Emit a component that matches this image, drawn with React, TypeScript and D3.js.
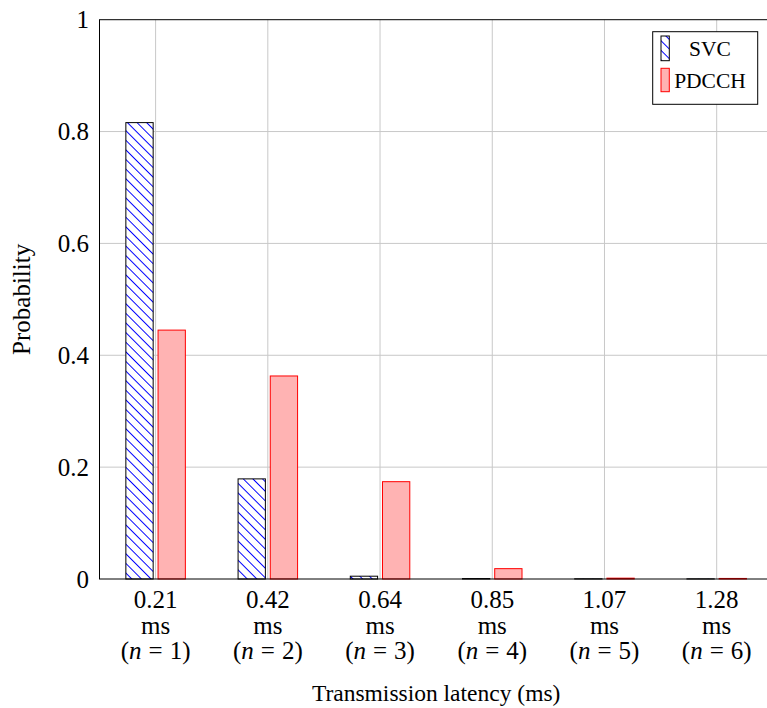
import React from "react";
import * as d3 from "d3";

const categories = ["0.21", "0.42", "0.64", "0.85", "1.07", "1.28"];
const nValues = [1, 2, 3, 4, 5, 6];
const svcValues = [0.816, 0.179, 0.005, 0.0008, 0.0004, 0.0003];
const pdcchValues = [0.445, 0.363, 0.174, 0.0185, 0.0015, 0.001];
const yTicks = [0, 0.2, 0.4, 0.6, 0.8, 1];
const yTickLabels = ["0", "0.2", "0.4", "0.6", "0.8", "1"];

const W = 767;
const H = 708;
const left = 99.5;
const right = 772.8;
const top = 19.7;
const bottom = 579;

export default function App() {
  const x = d3.scaleBand<string>().domain(categories).range([left, right]).padding(0);
  const y = d3.scaleLinear().domain([0, 1]).range([bottom, top]);
  const barW = 27.3;
  const off = 16.1;
  const font = "'Liberation Serif', 'Times New Roman', serif";
  const cx = (c: string) => (x(c) as number) + x.bandwidth() / 2;
  const ts = { fontFamily: font };

  return (
    <svg width={W} height={H} style={{ position: "absolute", left: 0, top: 0, background: "#fff", fontFamily: font }}>
      <defs>
        <clipPath id="plotClip">
          <rect x={left} y={top - 1} width={right - left} height={bottom - top + 2} />
        </clipPath>
        <pattern id="hatch" patternUnits="userSpaceOnUse" width="6.8" height="6.8" patternTransform="rotate(45)">
          <rect width="6.8" height="6.8" fill="#fff" />
          <line x1="0" y1="3.4" x2="6.8" y2="3.4" stroke="#0000ff" strokeWidth="1" />
        </pattern>
      </defs>
      <rect x={0} y={0} width={W} height={H} fill="#fff" />
      {/* grid */}
      <g stroke="#c8c8c8" strokeWidth={1}>
        {yTicks.slice(1, -1).map((t) => (
          <line key={"gy" + t} x1={left} x2={right} y1={y(t)} y2={y(t)} />
        ))}
        {categories.map((c) => (
          <line key={"gx" + c} x1={cx(c)} x2={cx(c)} y1={top} y2={bottom} />
        ))}
      </g>
      {/* bars */}
      <g clipPath="url(#plotClip)">
        {categories.map((c, i) => (
          <g key={"b" + c}>
            <rect
              x={cx(c) - off - barW / 2}
              y={y(svcValues[i])}
              width={barW}
              height={y(0) - y(svcValues[i])}
              fill="url(#hatch)"
              stroke="#000"
              strokeWidth={1}
            />
            <rect
              x={cx(c) + off - barW / 2}
              y={y(pdcchValues[i])}
              width={barW}
              height={y(0) - y(pdcchValues[i])}
              fill="#ffb3b3"
              stroke="#ff0000"
              strokeWidth={1}
            />
          </g>
        ))}
      </g>
      {/* frame */}
      <rect x={left} y={top} width={right - left} height={bottom - top} fill="none" stroke="#000" strokeWidth={1} />
      {/* y ticks */}
      <g fontSize={25} textAnchor="end">
        {yTicks.map((t, i) => (
          <text key={"yt" + t} x={89} y={y(t) + 8.5} style={ts}>
            {yTickLabels[i]}
          </text>
        ))}
      </g>
      {/* x ticks */}
      <g fontSize={25} textAnchor="middle">
        {categories.map((c, i) => (
          <g key={"xt" + c}>
            <text x={cx(c)} y={608} style={ts}>{c}</text>
            <text x={cx(c)} y={633.5} style={ts}>ms</text>
            <text x={cx(c)} y={659} style={ts}>
              (<tspan fontStyle="italic">n</tspan>
              <tspan dx={7}>=</tspan>
              <tspan dx={7}>{nValues[i]}</tspan>)
            </text>
          </g>
        ))}
      </g>
      {/* axis titles */}
      <text x={(left + right) / 2} y={701} fontSize={23.5} textAnchor="middle" style={ts}>
        Transmission latency (ms)
      </text>
      <text transform={`translate(30, ${(top + bottom) / 2}) rotate(-90)`} fontSize={25} textAnchor="middle" style={ts}>
        Probability
      </text>
      {/* legend */}
      <g>
        <rect x={652.7} y={31.7} width={105} height={72.6} fill="#fff" stroke="#000" strokeWidth={1} />
        <rect x={661} y={36} width={8.3} height={24.7} fill="url(#hatch)" stroke="#000" strokeWidth={1} />
        <rect x={661} y={68.3} width={8.3} height={23.4} fill="#ffb3b3" stroke="#ff0000" strokeWidth={1} />
        <text x={710} y={56} fontSize={21.5} textAnchor="middle" style={ts}>SVC</text>
        <text x={710} y={88} fontSize={21.5} textAnchor="middle" style={ts}>PDCCH</text>
      </g>
    </svg>
  );
}
